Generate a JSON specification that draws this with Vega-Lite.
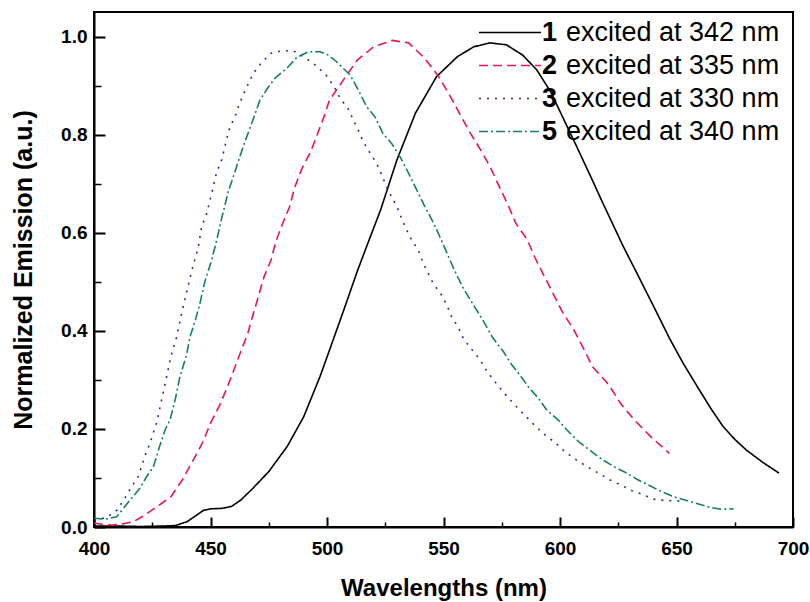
{
  "$schema": "https://vega.github.io/schema/vega-lite/v6.json",
  "width": 699,
  "height": 515,
  "autosize": {"type": "none"},
  "padding": {"left": 94, "top": 12, "right": 17, "bottom": 75},
  "background": "white",
  "config": {
    "view": {"stroke": "black", "strokeWidth": 2},
    "font": "Liberation Sans",
    "axis": {"grid": false, "labelColor": "black", "titleColor": "black", "domainColor": "black", "tickColor": "black"}
  },
  "datasets": {
    "series": [
      {"s": "1", "desc": "excited at 342 nm"},
      {"s": "2", "desc": "excited at 335 nm"},
      {"s": "3", "desc": "excited at 330 nm"},
      {"s": "5", "desc": "excited at 340 nm"}
    ],
    "curves": [
      {"s":"1","nm":400,"v":0.002},{"s":"1","nm":410,"v":0.002},{"s":"1","nm":420,"v":0.001},{"s":"1","nm":430,"v":0.002},{"s":"1","nm":435,"v":0.003},{"s":"1","nm":440,"v":0.011},{"s":"1","nm":444,"v":0.024},{"s":"1","nm":447,"v":0.034},{"s":"1","nm":450,"v":0.037},{"s":"1","nm":455,"v":0.038},{"s":"1","nm":459,"v":0.042},{"s":"1","nm":463,"v":0.055},{"s":"1","nm":468,"v":0.078},{"s":"1","nm":475,"v":0.113},{"s":"1","nm":483,"v":0.165},{"s":"1","nm":490,"v":0.225},{"s":"1","nm":497,"v":0.307},{"s":"1","nm":501,"v":0.36},{"s":"1","nm":507,"v":0.44},{"s":"1","nm":513,"v":0.522},{"s":"1","nm":518,"v":0.585},{"s":"1","nm":523,"v":0.647},{"s":"1","nm":530,"v":0.749},{"s":"1","nm":538,"v":0.845},{"s":"1","nm":547,"v":0.919},{"s":"1","nm":556,"v":0.96},{"s":"1","nm":563,"v":0.98},{"s":"1","nm":570,"v":0.988},{"s":"1","nm":577,"v":0.984},{"s":"1","nm":584,"v":0.963},{"s":"1","nm":590,"v":0.933},{"s":"1","nm":596,"v":0.888},{"s":"1","nm":601,"v":0.838},{"s":"1","nm":607,"v":0.778},{"s":"1","nm":613,"v":0.717},{"s":"1","nm":618,"v":0.665},{"s":"1","nm":627,"v":0.574},{"s":"1","nm":633,"v":0.518},{"s":"1","nm":640,"v":0.452},{"s":"1","nm":647,"v":0.385},{"s":"1","nm":653,"v":0.333},{"s":"1","nm":659,"v":0.286},{"s":"1","nm":665,"v":0.24},{"s":"1","nm":670,"v":0.205},{"s":"1","nm":675,"v":0.179},{"s":"1","nm":680,"v":0.157},{"s":"1","nm":687,"v":0.132},{"s":"1","nm":694,"v":0.11},
      {"s":"2","nm":400,"v":0.008},{"s":"2","nm":404,"v":0.005},{"s":"2","nm":408,"v":0.004},{"s":"2","nm":413,"v":0.007},{"s":"2","nm":417,"v":0.011},{"s":"2","nm":421,"v":0.022},{"s":"2","nm":425,"v":0.035},{"s":"2","nm":429,"v":0.048},{"s":"2","nm":433,"v":0.062},{"s":"2","nm":438,"v":0.097},{"s":"2","nm":443,"v":0.14},{"s":"2","nm":447,"v":0.176},{"s":"2","nm":450,"v":0.212},{"s":"2","nm":454,"v":0.249},{"s":"2","nm":457,"v":0.283},{"s":"2","nm":460,"v":0.32},{"s":"2","nm":463,"v":0.358},{"s":"2","nm":466,"v":0.395},{"s":"2","nm":468,"v":0.429},{"s":"2","nm":473,"v":0.511},{"s":"2","nm":476,"v":0.545},{"s":"2","nm":478,"v":0.582},{"s":"2","nm":481,"v":0.62},{"s":"2","nm":484,"v":0.654},{"s":"2","nm":486,"v":0.691},{"s":"2","nm":489,"v":0.729},{"s":"2","nm":493,"v":0.766},{"s":"2","nm":496,"v":0.803},{"s":"2","nm":499,"v":0.841},{"s":"2","nm":501,"v":0.871},{"s":"2","nm":507,"v":0.912},{"s":"2","nm":513,"v":0.953},{"s":"2","nm":520,"v":0.98},{"s":"2","nm":528,"v":0.993},{"s":"2","nm":535,"v":0.988},{"s":"2","nm":542,"v":0.956},{"s":"2","nm":548,"v":0.919},{"s":"2","nm":553,"v":0.878},{"s":"2","nm":557,"v":0.843},{"s":"2","nm":561,"v":0.808},{"s":"2","nm":566,"v":0.769},{"s":"2","nm":570,"v":0.735},{"s":"2","nm":574,"v":0.694},{"s":"2","nm":578,"v":0.654},{"s":"2","nm":581,"v":0.62},{"s":"2","nm":586,"v":0.586},{"s":"2","nm":589,"v":0.552},{"s":"2","nm":593,"v":0.514},{"s":"2","nm":597,"v":0.477},{"s":"2","nm":601,"v":0.439},{"s":"2","nm":606,"v":0.402},{"s":"2","nm":610,"v":0.365},{"s":"2","nm":614,"v":0.327},{"s":"2","nm":621,"v":0.29},{"s":"2","nm":626,"v":0.252},{"s":"2","nm":632,"v":0.218},{"s":"2","nm":639,"v":0.184},{"s":"2","nm":647,"v":0.15},
      {"s":"3","nm":400,"v":0.018},{"s":"3","nm":405,"v":0.018},{"s":"3","nm":410,"v":0.035},{"s":"3","nm":413,"v":0.057},{"s":"3","nm":416,"v":0.081},{"s":"3","nm":419,"v":0.103},{"s":"3","nm":422,"v":0.147},{"s":"3","nm":424,"v":0.171},{"s":"3","nm":427,"v":0.215},{"s":"3","nm":429,"v":0.259},{"s":"3","nm":431,"v":0.303},{"s":"3","nm":433,"v":0.348},{"s":"3","nm":435.5,"v":0.388},{"s":"3","nm":437.6,"v":0.436},{"s":"3","nm":439.8,"v":0.48},{"s":"3","nm":442,"v":0.524},{"s":"3","nm":444.8,"v":0.572},{"s":"3","nm":446.2,"v":0.613},{"s":"3","nm":448.4,"v":0.64},{"s":"3","nm":450.5,"v":0.681},{"s":"3","nm":452.7,"v":0.725},{"s":"3","nm":454.8,"v":0.749},{"s":"3","nm":457,"v":0.793},{"s":"3","nm":458.4,"v":0.817},{"s":"3","nm":460.5,"v":0.837},{"s":"3","nm":462,"v":0.858},{"s":"3","nm":464,"v":0.882},{"s":"3","nm":466,"v":0.902},{"s":"3","nm":468.4,"v":0.926},{"s":"3","nm":472,"v":0.948},{"s":"3","nm":476,"v":0.967},{"s":"3","nm":481,"v":0.972},{"s":"3","nm":485.5,"v":0.972},{"s":"3","nm":490,"v":0.96},{"s":"3","nm":495.5,"v":0.941},{"s":"3","nm":500,"v":0.92},{"s":"3","nm":503,"v":0.899},{"s":"3","nm":505.6,"v":0.875},{"s":"3","nm":509,"v":0.854},{"s":"3","nm":511.3,"v":0.831},{"s":"3","nm":513.4,"v":0.81},{"s":"3","nm":515.6,"v":0.786},{"s":"3","nm":518.5,"v":0.763},{"s":"3","nm":521.3,"v":0.742},{"s":"3","nm":523.5,"v":0.718},{"s":"3","nm":525.6,"v":0.694},{"s":"3","nm":527.7,"v":0.674},{"s":"3","nm":530,"v":0.654},{"s":"3","nm":532,"v":0.63},{"s":"3","nm":534.2,"v":0.606},{"s":"3","nm":536.3,"v":0.586},{"s":"3","nm":539.2,"v":0.565},{"s":"3","nm":541.3,"v":0.538},{"s":"3","nm":545.6,"v":0.497},{"s":"3","nm":549.2,"v":0.473},{"s":"3","nm":551.4,"v":0.453},{"s":"3","nm":553.5,"v":0.429},{"s":"3","nm":556.3,"v":0.408},{"s":"3","nm":558.5,"v":0.385},{"s":"3","nm":562,"v":0.363},{"s":"3","nm":565.7,"v":0.341},{"s":"3","nm":568.5,"v":0.319},{"s":"3","nm":572,"v":0.297},{"s":"3","nm":575.7,"v":0.275},{"s":"3","nm":580,"v":0.252},{"s":"3","nm":584.3,"v":0.231},{"s":"3","nm":588.6,"v":0.21},{"s":"3","nm":593,"v":0.19},{"s":"3","nm":598,"v":0.172},{"s":"3","nm":602,"v":0.154},{"s":"3","nm":607,"v":0.137},{"s":"3","nm":612,"v":0.122},{"s":"3","nm":616.5,"v":0.11},{"s":"3","nm":621.5,"v":0.096},{"s":"3","nm":626,"v":0.086},{"s":"3","nm":631,"v":0.074},{"s":"3","nm":635,"v":0.067},{"s":"3","nm":640,"v":0.057},{"s":"3","nm":645,"v":0.054},{"s":"3","nm":652,"v":0.053},
      {"s":"5","nm":400,"v":0.018},{"s":"5","nm":405,"v":0.016},{"s":"5","nm":409.7,"v":0.021},{"s":"5","nm":412.6,"v":0.038},{"s":"5","nm":415.5,"v":0.055},{"s":"5","nm":419.7,"v":0.079},{"s":"5","nm":422.6,"v":0.103},{"s":"5","nm":425.5,"v":0.123},{"s":"5","nm":428.3,"v":0.167},{"s":"5","nm":430.5,"v":0.198},{"s":"5","nm":432.6,"v":0.218},{"s":"5","nm":434.8,"v":0.259},{"s":"5","nm":436.9,"v":0.307},{"s":"5","nm":439.7,"v":0.351},{"s":"5","nm":441.2,"v":0.388},{"s":"5","nm":443.3,"v":0.419},{"s":"5","nm":445.5,"v":0.457},{"s":"5","nm":447.6,"v":0.501},{"s":"5","nm":450.5,"v":0.545},{"s":"5","nm":452.7,"v":0.586},{"s":"5","nm":454.8,"v":0.63},{"s":"5","nm":457.6,"v":0.684},{"s":"5","nm":460.5,"v":0.725},{"s":"5","nm":464,"v":0.776},{"s":"5","nm":467.7,"v":0.824},{"s":"5","nm":471.2,"v":0.871},{"s":"5","nm":474,"v":0.892},{"s":"5","nm":477.7,"v":0.916},{"s":"5","nm":482.7,"v":0.936},{"s":"5","nm":487,"v":0.958},{"s":"5","nm":492,"v":0.97},{"s":"5","nm":497,"v":0.97},{"s":"5","nm":500.6,"v":0.963},{"s":"5","nm":504,"v":0.95},{"s":"5","nm":510,"v":0.922},{"s":"5","nm":513.4,"v":0.892},{"s":"5","nm":517,"v":0.858},{"s":"5","nm":520.6,"v":0.837},{"s":"5","nm":524,"v":0.803},{"s":"5","nm":527.7,"v":0.783},{"s":"5","nm":531.3,"v":0.756},{"s":"5","nm":535,"v":0.722},{"s":"5","nm":538.5,"v":0.688},{"s":"5","nm":542,"v":0.654},{"s":"5","nm":545,"v":0.627},{"s":"5","nm":547.8,"v":0.599},{"s":"5","nm":550.6,"v":0.569},{"s":"5","nm":554.5,"v":0.526},{"s":"5","nm":558.5,"v":0.487},{"s":"5","nm":562,"v":0.46},{"s":"5","nm":566.4,"v":0.426},{"s":"5","nm":571.3,"v":0.385},{"s":"5","nm":575.7,"v":0.358},{"s":"5","nm":579.3,"v":0.331},{"s":"5","nm":582.8,"v":0.31},{"s":"5","nm":586.4,"v":0.286},{"s":"5","nm":590.7,"v":0.263},{"s":"5","nm":594.3,"v":0.239},{"s":"5","nm":599.3,"v":0.218},{"s":"5","nm":603,"v":0.198},{"s":"5","nm":608,"v":0.174},{"s":"5","nm":613.6,"v":0.154},{"s":"5","nm":618,"v":0.138},{"s":"5","nm":623.6,"v":0.122},{"s":"5","nm":628.6,"v":0.11},{"s":"5","nm":633.6,"v":0.096},{"s":"5","nm":638.6,"v":0.084},{"s":"5","nm":643.6,"v":0.072},{"s":"5","nm":648.6,"v":0.062},{"s":"5","nm":653.6,"v":0.055},{"s":"5","nm":658.7,"v":0.048},{"s":"5","nm":664.4,"v":0.04},{"s":"5","nm":669.4,"v":0.036},{"s":"5","nm":674.4,"v":0.037}
    ]
  },
  "data": {"name": "curves"},
  "transform": [
    {"lookup": "s", "from": {"data": {"name": "series"}, "key": "s", "fields": ["desc"]}}
  ],
  "layer": [
    {
      "mark": {"type": "line", "strokeWidth": 1.6},
      "encoding": {
        "x": {
          "field": "nm", "type": "quantitative",
          "scale": {"domain": [400, 700], "nice": false, "zero": false},
          "axis": {
            "orient": "bottom",
            "values": [400, 450, 500, 550, 600, 650, 700],
            "format": "d",
            "ticks": false,
            "domainWidth": 2,
            "labelFlush": false,
            "labelFontSize": 19,
            "labelFontWeight": "bold",
            "labelPadding": 12,
            "title": "Wavelengths (nm)",
            "titleFontSize": 24,
            "titleFontWeight": "bold",
            "titlePadding": 18
          }
        },
        "y": {
          "field": "v", "type": "quantitative",
          "scale": {"domain": [0, 1.051], "nice": false, "zero": false},
          "axis": {
            "orient": "left",
            "values": [0, 0.2, 0.4, 0.6, 0.8, 1.0],
            "format": ".1f",
            "ticks": false,
            "domainWidth": 2,
            "labelFlush": false,
            "labelFontSize": 19,
            "labelFontWeight": "bold",
            "labelPadding": 7,
            "title": "Normalized Emission (a.u.)",
            "titleFontSize": 25,
            "titleFontWeight": "bold",
            "titlePadding": 24
          }
        },
        "color": {
          "field": "s", "type": "nominal",
          "scale": {"domain": ["1", "2", "3", "5"], "range": ["#000000", "#e8174f", "#2a2ab8", "#148068"]},
          "legend": {
            "orient": "none", "legendX": 384, "legendY": 4, "title": null,
            "symbolType": "stroke", "symbolSize": 3844, "symbolStrokeWidth": 1.6,
            "labelFontSize": 27, "labelFontWeight": "bold", "labelColor": "black", "labelLimit": 400,
            "clipHeight": 33, "rowPadding": 0, "labelOffset": 0, "padding": 0
          }
        },
        "strokeDash": {
          "field": "s", "type": "nominal",
          "scale": {"domain": ["1", "2", "3", "5"], "range": [[1, 0], [9, 5], [2, 6], [9, 3, 2, 3]]},
          "legend": {
            "orient": "none", "legendX": 384, "legendY": 4, "title": null,
            "symbolType": "stroke", "symbolSize": 3844, "symbolStrokeWidth": 1.6,
            "labelFontSize": 27, "labelFontWeight": "bold", "labelColor": "black", "labelLimit": 400,
            "clipHeight": 33, "rowPadding": 0, "labelOffset": 0, "padding": 0
          }
        },
        "opacity": {
          "field": "desc", "type": "ordinal",
          "scale": {"domain": ["excited at 342 nm", "excited at 335 nm", "excited at 330 nm", "excited at 340 nm"], "range": [1, 1, 1, 1]},
          "legend": {
            "orient": "none", "legendX": 445, "legendY": 4, "title": null,
            "symbolOpacity": 0, "symbolSize": 0,
            "labelFontSize": 27, "labelFontWeight": "normal", "labelColor": "black", "labelLimit": 400,
            "clipHeight": 33, "rowPadding": 0, "labelOffset": 0, "padding": 0
          }
        }
      }
    },
    {
      "mark": {"type": "line", "opacity": 0},
      "encoding": {
        "x": {
          "field": "nm", "type": "quantitative",
          "scale": {"domain": [400, 700], "nice": false, "zero": false},
          "axis": {"orient": "bottom", "values": [400, 450, 500, 550, 600, 650, 700], "labels": false, "domain": false, "tickSize": -10, "tickWidth": 2, "title": null}
        },
        "y": {
          "field": "v", "type": "quantitative",
          "scale": {"domain": [0, 1.051], "nice": false, "zero": false},
          "axis": {"orient": "left", "values": [0, 0.2, 0.4, 0.6, 0.8, 1.0], "labels": false, "domain": false, "tickSize": -11, "tickWidth": 2, "title": null}
        },
        "detail": {"field": "s", "type": "nominal"}
      }
    },
    {
      "mark": {"type": "line", "opacity": 0},
      "encoding": {
        "x": {
          "field": "nm", "type": "quantitative",
          "scale": {"domain": [400, 700], "nice": false, "zero": false},
          "axis": {"orient": "bottom", "values": [425, 475, 525, 575, 625, 675], "labels": false, "domain": false, "tickSize": -5, "tickWidth": 1.5, "title": null}
        },
        "y": {
          "field": "v", "type": "quantitative",
          "scale": {"domain": [0, 1.051], "nice": false, "zero": false},
          "axis": {"orient": "left", "values": [0.1, 0.3, 0.5, 0.7, 0.9], "labels": false, "domain": false, "tickSize": -7, "tickWidth": 1.5, "title": null}
        },
        "detail": {"field": "s", "type": "nominal"}
      }
    }
  ],
  "resolve": {"axis": {"x": "independent", "y": "independent"}}
}
